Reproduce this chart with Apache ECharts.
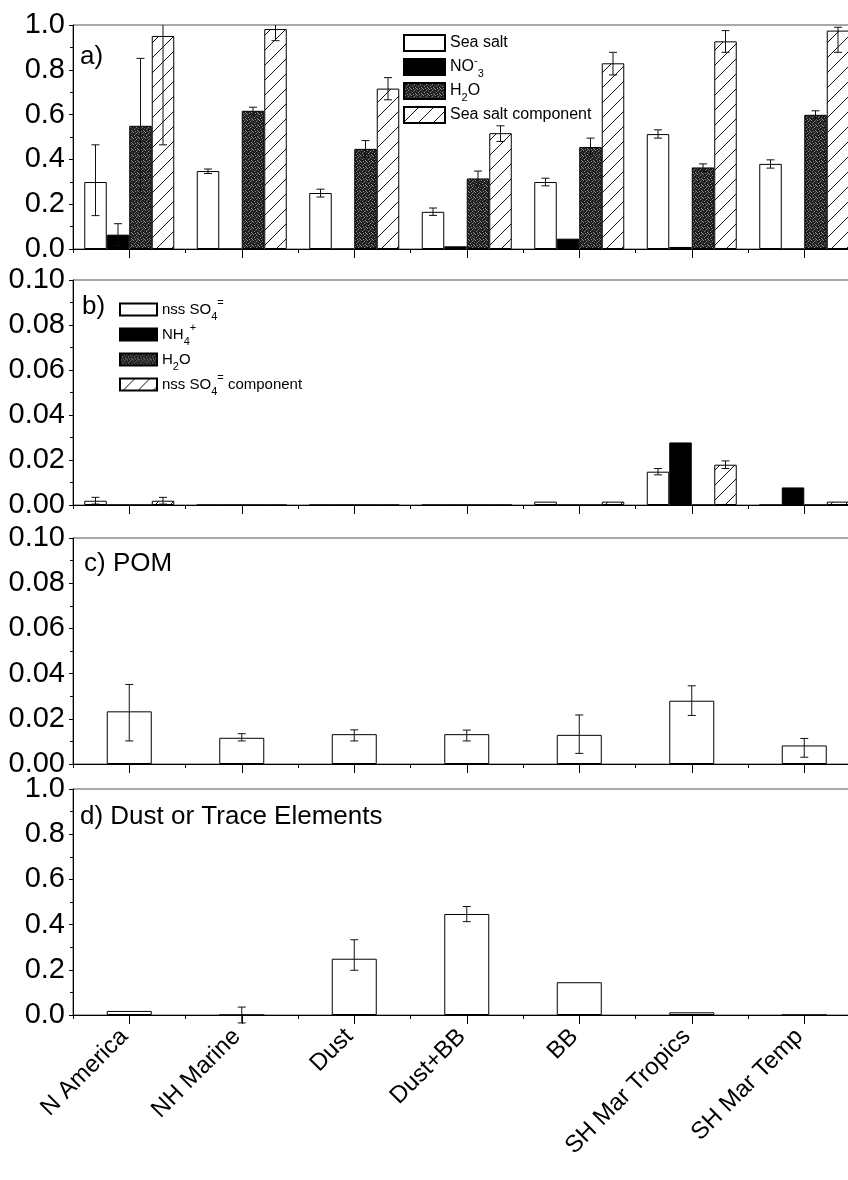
<!DOCTYPE html>
<html><head><meta charset="utf-8">
<style>html,body{margin:0;padding:0;background:#fff}#c{width:848px;height:1180px}</style>
<script src="https://cdn.jsdelivr.net/npm/echarts@6.0.0/dist/echarts.min.js"></script>
</head><body><div id="c"></div><script>
// ---------------- data ----------------
const categories = ['N America', 'NH Marine', 'Dust', 'Dust+BB', 'BB', 'SH Mar Tropics', 'SH Mar Temp'];

// panel a) sea-salt component
const seaSalt      = [0.299, 0.348, 0.250, 0.166, 0.299, 0.513, 0.380];
const seaSaltErr   = [[0.149, 0.465], [0.337, 0.357], [0.232, 0.267], [0.150, 0.183], [0.282, 0.316], [0.495, 0.532], [0.361, 0.398]];
const no3          = [0.064, 0, 0, 0.012, 0.046, 0.009, 0];
const no3Err       = [[0.015, 0.113], null, null, null, null, null, null];
const h2oA         = [0.550, 0.617, 0.447, 0.315, 0.455, 0.364, 0.599];
const h2oAErr      = [[0.250, 0.851], [0.599, 0.633], [0.410, 0.484], [0.282, 0.348], [0.415, 0.495], [0.346, 0.380], [0.581, 0.617]];
const seaSaltComp    = [0.951, 0.982, 0.716, 0.517, 0.829, 0.927, 0.975];
const seaSaltCompErr = [[0.465, 1.44], [0.930, 1.02], [0.666, 0.765], [0.480, 0.550], [0.777, 0.878], [0.878, 0.975], [0.878, 0.990]];

// panel b) nss sulfate component
const nssSO4       = [0.0019, 0, 0, 0, 0.0015, 0.0148, 0];
const nssSO4Err    = [[0.0004, 0.0034], null, null, null, null, [0.0134, 0.0162], null];
const nh4          = [0, 0, 0, 0, 0, 0.0278, 0.0078];
const h2oB         = [0, 0, 0, 0, 0, 0, 0];
const nssSO4Comp    = [0.0019, 0, 0, 0, 0.0015, 0.0179, 0.0015];
const nssSO4CompErr = [[0.0004, 0.0034], null, null, null, null, [0.0162, 0.0196], null];

// panel c) POM
const pom    = [0.0233, 0.0116, 0.0132, 0.0132, 0.0129, 0.0280, 0.0082];
const pomErr = [[0.0102, 0.0352], [0.0102, 0.0134], [0.0102, 0.0151], [0.0102, 0.0150], [0.0047, 0.0217], [0.0215, 0.0346], [0.0030, 0.0113]];

// panel d) dust or trace elements
const dust    = [0.018, 0, 0.249, 0.447, 0.145, 0.012, 0];
const dustErr = [null, [-0.035, 0.035], [0.198, 0.333], [0.413, 0.480], null, null, null];

// axis ticks
const yTicksA = { min: 0, max: 1.0, interval: 0.2, digits: 1 };
const yTicksB = { min: 0, max: 0.10, interval: 0.02, digits: 2 };
const yTicksC = { min: 0, max: 0.10, interval: 0.02, digits: 2 };
const yTicksD = { min: 0, max: 1.0, interval: 0.2, digits: 1 };

// ---------------- styles ----------------
const F = '"Liberation Sans", Arial, sans-serif';

function hatchPattern() {
  const s = 15;
  const c = document.createElement('canvas'); c.width = s; c.height = s;
  const g = c.getContext('2d');
  g.fillStyle = '#fff'; g.fillRect(0, 0, s, s);
  g.strokeStyle = '#111'; g.lineWidth = 1;
  g.beginPath(); g.moveTo(-1, s + 1); g.lineTo(s + 1, -1); g.stroke();
  g.beginPath(); g.moveTo(-1, 1); g.lineTo(1, -1); g.stroke();
  g.beginPath(); g.moveTo(s - 1, s + 1); g.lineTo(s + 1, s - 1); g.stroke();
  return c;
}
function stipplePattern() {
  const s = 6;
  const c = document.createElement('canvas'); c.width = s; c.height = s;
  const g = c.getContext('2d');
  g.fillStyle = '#1e1e1e'; g.fillRect(0, 0, s, s);
  g.fillStyle = '#8c8c8c';
  [[1,0],[4,1],[2,3],[5,4],[0,5],[3,5]].forEach(p => g.fillRect(p[0], p[1], 1, 1));
  g.fillStyle = '#555';
  [[3,2],[0,2],[5,0]].forEach(p => g.fillRect(p[0], p[1], 1, 1));
  return c;
}
const HATCH = { image: hatchPattern(), repeat: 'repeat' };
const STIP = { image: stipplePattern(), repeat: 'repeat' };

const fills = { white: '#ffffff', black: '#000000', stip: STIP, hatch: HATCH };

// ---------------- layout ----------------
const gridLeft = 73, bandW = 112.5;
const panels = [
  { top: 25, bottom: 249, ticks: yTicksA },
  { top: 280, bottom: 505, ticks: yTicksB },
  { top: 538, bottom: 764, ticks: yTicksC },
  { top: 789, bottom: 1015, ticks: yTicksD }
];

const grid = panels.map(p => ({
  left: gridLeft, top: p.top, width: bandW * categories.length, height: p.bottom - p.top,
  show: true, borderColor: '#555', borderWidth: 1, backgroundColor: 'transparent',
  containLabel: false, outerBoundsMode: 'none'
}));

const xAxis = [];
panels.forEach((p, g) => {
  xAxis.push({
    gridIndex: g, type: 'category', data: categories, position: 'bottom', boundaryGap: true,
    axisLine: { show: true, lineStyle: { color: '#000', width: 1 } },
    axisTick: { show: true, alignWithLabel: true, interval: 0, length: 9, lineStyle: { color: '#000', width: 1 } },
    axisLabel: { show: g === 3, interval: 0, rotate: 45, margin: 13, padding: [0, 7, 0, 0],
      fontSize: 24, color: '#000', fontFamily: F },
    splitLine: { show: false }
  });
  xAxis.push({
    gridIndex: g, type: 'category', data: categories, position: 'bottom', boundaryGap: true,
    axisLine: { show: false },
    axisTick: { show: true, alignWithLabel: false, interval: 0, length: 4, lineStyle: { color: '#000', width: 1 } },
    axisLabel: { show: false },
    splitLine: { show: false }
  });
});

const yAxis = panels.map((p, g) => ({
  gridIndex: g, type: 'value', min: p.ticks.min, max: p.ticks.max, interval: p.ticks.interval,
  axisLine: { show: true, lineStyle: { color: '#000', width: 1 } },
  axisTick: { show: true, length: 4, lineStyle: { color: '#000', width: 1 } },
  minorTick: { show: true, splitNumber: 2, length: 3, lineStyle: { color: '#000', width: 1 } },
  splitLine: { show: false },
  axisLabel: { fontSize: 29, color: '#000', fontFamily: F, margin: 8,
    formatter: v => Number(v).toFixed(p.ticks.digits) }
}));

const series = [];
function bar(name, g, data, fill, gap) {
  series.push({
    name, type: 'bar', xAxisIndex: 2 * g, yAxisIndex: g, data,
    barGap: '0%', barCategoryGap: gap,
    itemStyle: { color: fills[fill], borderColor: '#000', borderWidth: 1 },
    emphasis: { disabled: true }, silent: true, z: 2
  });
}
function errBars(g, errs, slot, nSlots, frac) {
  const data = [];
  errs.forEach((e, i) => { if (e) data.push([i, e[0], e[1]]); });
  series.push({
    type: 'custom', xAxisIndex: 2 * g, yAxisIndex: g, data, silent: true, z: 5,
    renderItem: function (params, api) {
      const i = api.value(0);
      const bw = api.size([1, 0])[0];
      const off = (slot - (nSlots - 1) / 2) * bw * frac;
      const lo = api.coord([i, api.value(1)]);
      const hi = api.coord([i, api.value(2)]);
      const x = lo[0] + off;
      const top = params.coordSys.y;
      let yH = hi[1], capH = true;
      if (yH < top) { yH = top; capH = false; }
      const st = { stroke: '#111', lineWidth: 1 };
      const ch = [
        { type: 'line', shape: { x1: x, y1: lo[1], x2: x, y2: yH }, style: st },
        { type: 'line', shape: { x1: x - 4, y1: lo[1], x2: x + 4, y2: lo[1] }, style: st }
      ];
      if (capH) ch.push({ type: 'line', shape: { x1: x - 4, y1: yH, x2: x + 4, y2: yH }, style: st });
      return { type: 'group', children: ch };
    }
  });
}

// panel a
bar('Sea salt', 0, seaSalt, 'white', '20%');
bar('NO3-', 0, no3, 'black', '20%');
bar('H2O', 0, h2oA, 'stip', '20%');
bar('Sea salt component', 0, seaSaltComp, 'hatch', '20%');
errBars(0, seaSaltErr, 0, 4, 0.2);
errBars(0, no3Err, 1, 4, 0.2);
errBars(0, h2oAErr, 2, 4, 0.2);
errBars(0, seaSaltCompErr, 3, 4, 0.2);
// panel b
bar('nssSO4=', 1, nssSO4, 'white', '20%');
bar('NH4+', 1, nh4, 'black', '20%');
bar('H2O ', 1, h2oB, 'stip', '20%');
bar('nssSO4= component', 1, nssSO4Comp, 'hatch', '20%');
errBars(1, nssSO4Err, 0, 4, 0.2);
errBars(1, nssSO4CompErr, 3, 4, 0.2);
// panel c
bar('POM', 2, pom, 'white', '60%');
errBars(2, pomErr, 0, 1, 0);
// panel d
bar('Dust or Trace Elements', 3, dust, 'white', '60%');
errBars(3, dustErr, 0, 1, 0);

const legendLabels = {
  'Sea salt': '{t|Sea salt}{sup| }{sub| }',
  'NO3-': '{t|NO}{sup|-}{sub|3}',
  'H2O': '{t|H}{sub|2}{t|O}{sup| }',
  'H2O ': '{t|H}{sub|2}{t|O}{sup| }',
  'Sea salt component': '{t|Sea salt component}{sup| }{sub| }',
  'nssSO4=': '{t|nss SO}{sub|4}{sup|=}',
  'NH4+': '{t|NH}{sub|4}{sup|+}',
  'nssSO4= component': '{t|nss SO}{sub|4}{sup|=}{t| component}'
};
function rich(lh, fs) {
  return {
    t: { fontSize: fs, lineHeight: lh, fontFamily: F, color: '#000' },
    sub: { fontSize: 11, lineHeight: 6, verticalAlign: 'bottom', fontFamily: F, color: '#000' },
    sup: { fontSize: 11, lineHeight: 6, verticalAlign: 'top', fontFamily: F, color: '#000' }
  };
}
const legend = [
  { data: ['Sea salt', 'NO3-', 'H2O', 'Sea salt component'], orient: 'vertical', left: 403, top: 31,
    itemWidth: 41, itemHeight: 16, itemGap: 0, icon: 'rect', selectedMode: false, padding: 0,
    formatter: n => legendLabels[n], textStyle: { rich: rich(24, 16) } },
  { data: ['nssSO4=', 'NH4+', 'H2O ', 'nssSO4= component'], orient: 'vertical', left: 119, top: 297,
    itemWidth: 37, itemHeight: 12, itemGap: 0, icon: 'rect', selectedMode: false, padding: 0,
    formatter: n => legendLabels[n], textStyle: { rich: rich(25, 15) } }
];

const tStyle = { fontSize: 26, fontWeight: 'normal', color: '#000', fontFamily: F };
const title = [
  { text: 'a)', left: 80, top: 44, padding: 0, textStyle: tStyle },
  { text: 'b)', left: 82, top: 294, padding: 0, textStyle: tStyle },
  { text: 'c) POM', left: 84, top: 551, padding: 0, textStyle: tStyle },
  { text: 'd) Dust or Trace Elements', left: 80, top: 804, padding: 0, textStyle: tStyle }
];

const chart = echarts.init(document.getElementById('c'), null, { renderer: 'canvas', width: 848, height: 1180 });
chart.setOption({
  backgroundColor: '#fff', animation: false,
  title, legend, grid, xAxis, yAxis, series
});
</script></body></html>
